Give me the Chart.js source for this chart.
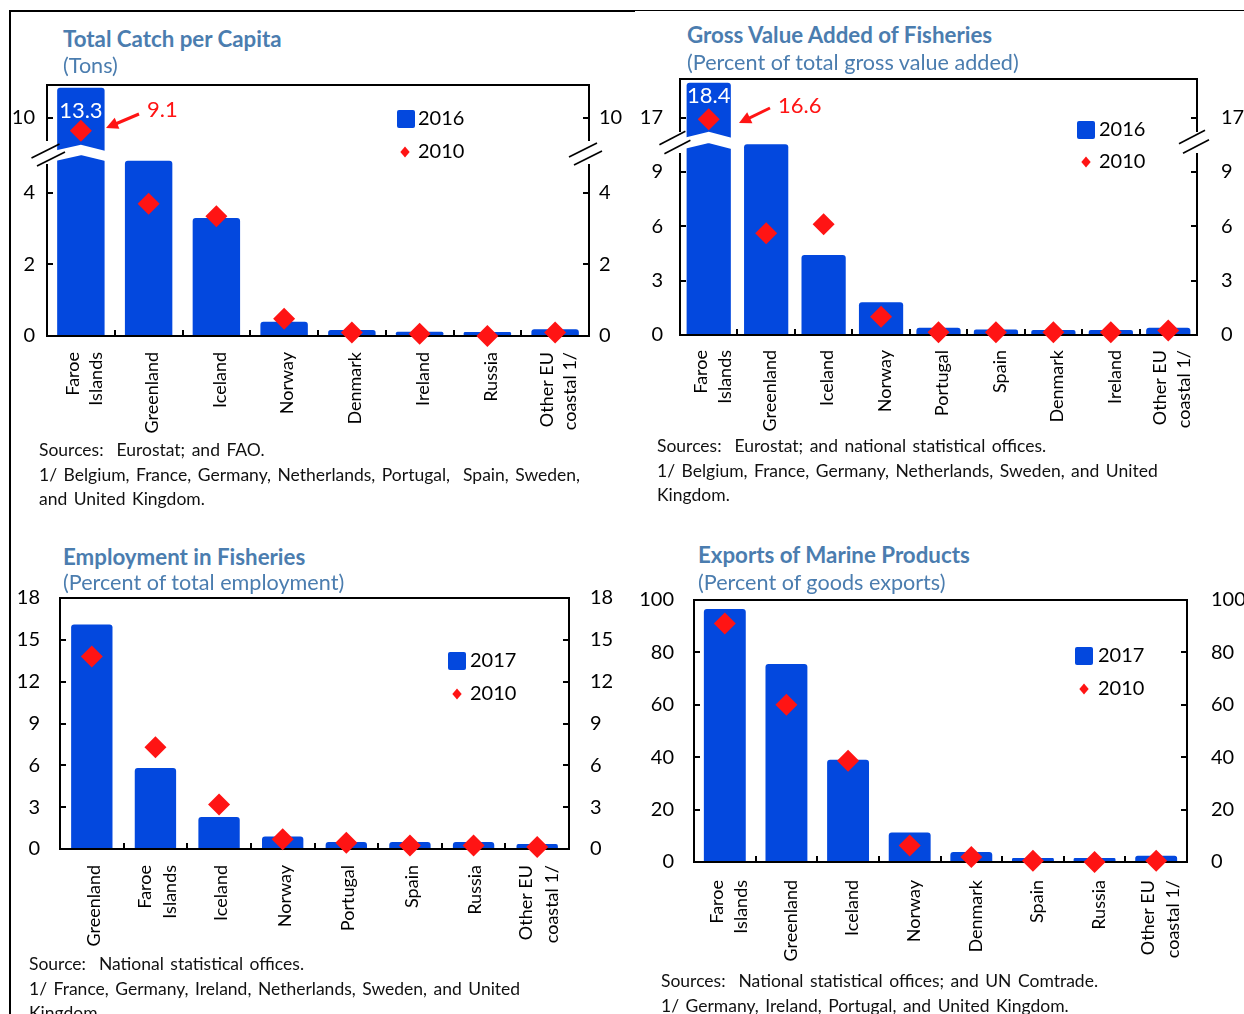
<!DOCTYPE html>
<html>
<head>
<meta charset="utf-8">
<script src="https://cdn.jsdelivr.net/npm/chart.js@4.4.0/dist/chart.umd.min.js"></script>
<style>
html, body { margin: 0; padding: 0; background: #fff; }
body { width: 1244px; height: 1014px; position: relative; overflow: hidden; font-family: Lato, "Open Sans", sans-serif; }
.cv { position: absolute; }
.ttl { position: absolute; color: #4b7daf; font-weight: bold; font-size: 22.3px; white-space: nowrap; line-height: 1; transform: translateY(-50%); z-index: 2; }
.sub { position: absolute; color: #4b7daf; font-size: 21.6px; white-space: nowrap; line-height: 1; transform: translateY(-50%); z-index: 2; }
.src { position: absolute; font-size: 17.5px; word-spacing: 2px; line-height: 24.5px; color: #111; white-space: nowrap; z-index: 2; }
.frame { position: absolute; background: #000; }
</style>
</head>
<body>
<div class="frame" style="left:10px;top:10px;width:625px;height:2px"></div>
<div class="frame" style="left:635px;top:10px;width:609px;height:1px"></div>
<div class="frame" style="left:9px;top:10px;width:2px;height:1004px"></div>

<div class="ttl" style="left:63px;top:39px">Total Catch per Capita</div>
<div class="sub" style="left:63px;top:66px">(Tons)</div>
<div class="ttl" style="left:687px;top:35px">Gross Value Added of Fisheries</div>
<div class="sub" style="left:687px;top:63px">(Percent of total gross value added)</div>
<div class="ttl" style="left:63px;top:557px">Employment in Fisheries</div>
<div class="sub" style="left:63px;top:583px">(Percent of total employment)</div>
<div class="ttl" style="left:698px;top:555px">Exports of Marine Products</div>
<div class="sub" style="left:698px;top:583px">(Percent of goods exports)</div>

<div class="src" style="left:39px;top:438px">Sources:&nbsp; Eurostat; and FAO.<br>1/ Belgium, France, Germany, Netherlands, Portugal,&nbsp; Spain, Sweden,<br>and United Kingdom.</div>
<div class="src" style="left:657px;top:434px">Sources:&nbsp; Eurostat; and national statistical offices.<br>1/ Belgium, France, Germany, Netherlands, Sweden, and United<br>Kingdom.</div>
<div class="src" style="left:29px;top:952px">Source:&nbsp; National statistical offices.<br>1/ France, Germany, Ireland, Netherlands, Sweden, and United<br>Kingdom.</div>
<div class="src" style="left:661px;top:969px">Sources:&nbsp; National statistical offices; and UN Comtrade.<br>1/ Germany, Ireland, Portugal, and United Kingdom.</div>

<script>
// data
const catchLabels = [['Faroe', 'Islands'], 'Greenland', 'Iceland', 'Norway', 'Denmark', 'Ireland', 'Russia', ['Other EU', 'coastal 1/']];
const catch2016 = [13.3, 4.9, 3.3, 0.4, 0.17, 0.12, 0.11, 0.19];
const catch2010 = [9.1, 3.7, 3.35, 0.48, 0.1, 0.06, 0.0, 0.1];
const catchTicks = [0, 2, 4, 10];

const gvaLabels = [['Faroe', 'Islands'], 'Greenland', 'Iceland', 'Norway', 'Portugal', 'Spain', 'Denmark', 'Ireland', ['Other EU', 'coastal 1/']];
const gva2016 = [18.4, 10.5, 4.4, 1.8, 0.4, 0.3, 0.28, 0.28, 0.4];
const gva2010 = [16.6, 5.6, 6.1, 1.0, 0.15, 0.15, 0.15, 0.15, 0.25];
const gvaTicks = [0, 3, 6, 9, 17];

const empLabels = ['Greenland', ['Faroe', 'Islands'], 'Iceland', 'Norway', 'Portugal', 'Spain', 'Russia', ['Other EU', 'coastal 1/']];
const emp2017 = [16.1, 5.8, 2.3, 0.9, 0.5, 0.5, 0.5, 0.35];
const emp2010 = [13.8, 7.3, 3.2, 0.7, 0.45, 0.25, 0.25, 0.15];
const empTicks = [0, 3, 6, 9, 12, 15, 18];

const expLabels = [['Faroe', 'Islands'], 'Greenland', 'Iceland', 'Norway', 'Denmark', 'Spain', 'Russia', ['Other EU', 'coastal 1/']];
const exp2017 = [96.6, 75.6, 39, 11.3, 3.8, 1.5, 1.5, 2.4];
const exp2010 = [91, 60, 38.6, 6.3, 1.9, 0.5, 0, 0.5];
const expTicks = [0, 20, 40, 60, 80, 100];

const BLUE = '#0348de', RED = '#ff1414';
Chart.defaults.font.family = 'Lato, "Open Sans", sans-serif';
Chart.defaults.color = '#000';

function arrow(ctx, x1, y1, x2, y2) {
    const a = Math.atan2(y2 - y1, x2 - x1), hl = 12, hw = 6;
    ctx.save();
    ctx.strokeStyle = RED; ctx.fillStyle = RED; ctx.lineWidth = 3;
    ctx.beginPath();
    ctx.moveTo(x1, y1);
    ctx.lineTo(x2 - Math.cos(a) * hl * 0.8, y2 - Math.sin(a) * hl * 0.8);
    ctx.stroke();
    ctx.beginPath();
    ctx.moveTo(x2, y2);
    ctx.lineTo(x2 - Math.cos(a) * hl - Math.sin(a) * hw, y2 - Math.sin(a) * hl + Math.cos(a) * hw);
    ctx.lineTo(x2 - Math.cos(a) * hl + Math.sin(a) * hw, y2 - Math.sin(a) * hl - Math.cos(a) * hw);
    ctx.closePath();
    ctx.fill();
    ctx.restore();
}

function panel(o) {
    const cv = document.createElement('canvas');
    cv.className = 'cv';
    cv.width = o.width; cv.height = o.height;
    cv.style.left = o.left + 'px'; cv.style.top = o.top + 'px';
    cv.style.width = o.width + 'px'; cv.style.height = o.height + 'px';
    document.body.appendChild(cv);

    const WL = o.box.L - o.left, WR = o.left + o.width - o.box.R;
    const padTop = o.box.T - o.top, HX = o.top + o.height - o.box.B;
    const toAxis = o.toAxis || (v => v);
    const topTick = o.ticks[o.ticks.length - 1];
    // bars above the top tick of a broken axis run off the top
    const barVal = v => (o.broken && v > topTick) ? o.yMax - o.capGap : toAxis(v);
    const X = px => px - o.left, Y = py => py - o.top;

    const yAxis = (pos) => ({
        type: 'linear',
        position: pos,
        min: 0,
        max: o.yMax,
        afterBuildTicks: s => { s.ticks = o.ticks.map(v => ({ value: toAxis(v) })); },
        afterFit: s => {
            s.width = pos === 'left' ? WL : WR;
            s.paddingTop = 0; s.paddingBottom = 0;
        },
        ticks: {
            callback: (v, i) => String(o.ticks[i]),
            font: { size: 20 },
            color: '#000',
            padding: pos === 'left' ? o.padL : o.padR,
            autoSkip: false
        },
        grid: { drawOnChartArea: false, tickLength: -6, color: '#000', lineWidth: 2 },
        border: { display: true, color: '#000', width: 2 }
    });

    const deco = {
        id: 'deco' + o.left + o.top,
        afterDatasetsDraw(chart) {
            if (!o.broken) return;
            const ctx = chart.ctx, bar = chart.getDatasetMeta(0).data[0];
            const bl = bar.x - bar.width / 2 - 3, br = bar.x + bar.width / 2 + 3;
            ctx.save();
            ctx.strokeStyle = '#fff';
            ctx.lineWidth = o.broken.lw;
            ctx.beginPath();
            ctx.moveTo(bl, Y(o.broken.side));
            ctx.lineTo(bar.x, Y(o.broken.mid));
            ctx.lineTo(br, Y(o.broken.side + 0.5));
            ctx.stroke();
            ctx.restore();
        },
        afterDraw(chart) {
            const ctx = chart.ctx, ca = chart.chartArea, xs = chart.scales.x;
            ctx.save();
            // top edge of the frame
            ctx.strokeStyle = '#000'; ctx.lineWidth = 2;
            ctx.beginPath(); ctx.moveTo(ca.left - 1, ca.top); ctx.lineTo(ca.right + 1, ca.top); ctx.stroke();

            if (o.broken) {
                const b = o.broken;
                ctx.fillStyle = '#fff';
                ctx.fillRect(ca.left - 3, Y(b.gap[0]), 6, b.gap[1] - b.gap[0]);
                ctx.fillRect(ca.right - 3, Y(b.gap[0]), 6, b.gap[1] - b.gap[0]);
                ctx.strokeStyle = '#000'; ctx.lineWidth = 1.6;
                const sl = (cx, cy) => {
                    ctx.beginPath();
                    ctx.moveTo(cx - b.dx, cy + b.dy); ctx.lineTo(cx + b.dx, cy - b.dy); ctx.stroke();
                };
                b.left.forEach(p => sl(ca.left + p[0], Y(p[1])));
                b.right.forEach(p => sl(ca.right + p[0], Y(p[1])));

                // value labels of the truncated marks
                const bar = chart.getDatasetMeta(0).data[0];
                ctx.font = '22px Lato';
                ctx.textBaseline = 'middle';
                ctx.textAlign = 'center';
                ctx.fillStyle = '#fff';
                ctx.fillText(String(o.bars[0]), bar.x, Y(b.barLabelY));
                ctx.textAlign = 'left';
                ctx.fillStyle = RED;
                ctx.fillText(String(o.dots[0]), X(b.dotLabel[0]), Y(b.dotLabel[1]));
                arrow(ctx, X(b.arrow[0]), Y(b.arrow[1]), X(b.arrow[2]), Y(b.arrow[3]));
            }

            // legend
            const lg = o.legend;
            ctx.fillStyle = BLUE;
            ctx.beginPath();
            ctx.roundRect(X(lg.sq[0]), Y(lg.sq[1]), 18, 18, 2);
            ctx.fill();
            ctx.fillStyle = RED;
            const dx = X(lg.dot[0]), dy = Y(lg.dot[1]), r = 5.5;
            ctx.beginPath();
            ctx.moveTo(dx, dy - r); ctx.lineTo(dx + r * 0.85, dy); ctx.lineTo(dx, dy + r); ctx.lineTo(dx - r * 0.85, dy);
            ctx.closePath(); ctx.fill();
            ctx.fillStyle = '#000';
            ctx.font = '20px Lato';
            ctx.textAlign = 'left'; ctx.textBaseline = 'middle';
            ctx.fillText(o.years[0], X(lg.text), Y(lg.sq[1] + 9));
            ctx.fillText(o.years[1], X(lg.text), dy);

            // category labels, rotated
            ctx.font = '18px Lato';
            ctx.textAlign = 'right';
            o.labels.forEach((lab, i) => {
                const lines = Array.isArray(lab) ? lab : [lab];
                const cx = xs.getPixelForValue(i) + o.xl.dx;
                lines.forEach((t, j) => {
                    const lx = cx + (j - (lines.length - 1) / 2) * o.xl.lh;
                    ctx.save();
                    ctx.translate(lx, ca.bottom + o.xl.gap);
                    ctx.rotate(-Math.PI / 2);
                    ctx.fillText(t, 0, 0);
                    ctx.restore();
                });
            });
            ctx.restore();
        }
    };

    new Chart(cv, {
        data: {
            labels: o.labels,
            datasets: [{
                type: 'bar',
                label: o.years[0],
                data: o.bars.map(barVal),
                backgroundColor: BLUE,
                borderWidth: 0,
                borderRadius: { topLeft: 3, topRight: 3 },
                barPercentage: o.barPct,
                categoryPercentage: 1,
                clip: 0,
                order: 2
            }, {
                type: 'line',
                label: o.years[1],
                data: o.dots.map(toAxis),
                showLine: false,
                pointStyle: 'rectRot',
                pointRadius: 11,
                pointBackgroundColor: RED,
                pointBorderWidth: 0,
                clip: false,
                order: 1
            }]
        },
        options: {
            responsive: false,
            animation: false,
            events: [],
            layout: { padding: { top: padTop, left: 0, right: 0, bottom: 0 } },
            plugins: { legend: { display: false }, tooltip: { enabled: false } },
            scales: {
                x: {
                    type: 'category',
                    offset: true,
                    afterFit: s => { s.height = HX; s.paddingLeft = 0; s.paddingRight = 0; },
                    ticks: { display: false },
                    grid: { offset: true, drawOnChartArea: false, tickLength: -6, color: '#000', lineWidth: 2 },
                    border: { display: true, color: '#000', width: 2 }
                },
                y: yAxis('left'),
                y2: yAxis('right')
            }
        },
        plugins: [deco]
    });
}

panel({
    left: 0, top: 70, width: 650, height: 380,
    box: { L: 47, T: 85, R: 589, B: 336 },
    labels: catchLabels, bars: catch2016, dots: catch2010, ticks: catchTicks,
    years: ['2016', '2010'],
    yMax: 7.02,
    toAxis: v => v < 5.5 ? v : 6.098 + (v - 10) * 0.4,
    capGap: 0.08,
    barPct: 0.70,
    padL: 18, padR: 16,
    broken: {
        gap: [141, 164], dx: 14, dy: 7,
        left: [[-1.5, 151], [4, 159]], right: [[-6, 150], [-1, 158]],
        side: 156, mid: 150, lw: 10,
        barLabelY: 111, dotLabel: [147, 110], arrow: [139, 114, 106, 128]
    },
    legend: { sq: [397, 110], dot: [405, 152], text: [418] },
    xl: { dx: 3.5, lh: 23, gap: 16 }
});

panel({
    left: 620, top: 65, width: 624, height: 380,
    box: { L: 680, T: 79, R: 1197, B: 335 },
    labels: gvaLabels, bars: gva2016, dots: gva2010, ticks: gvaTicks,
    years: ['2016', '2010'],
    yMax: 14.1,
    toAxis: v => v < 11.5 ? v : 11.956 + (v - 17) * 0.18,
    capGap: 0.2,
    barPct: 0.77,
    padL: 23, padR: 30,
    broken: {
        gap: [132, 153], dx: 13, dy: 6.7,
        left: [[-7.6, 138], [-2.6, 147]], right: [[-5, 137], [-1, 146.5]],
        side: 143.5, mid: 137.5, lw: 11,
        barLabelY: 96, dotLabel: [778, 106], arrow: [770, 108, 739, 123]
    },
    legend: { sq: [1077, 121], dot: [1086, 162], text: [1099] },
    xl: { dx: 4, lh: 24, gap: 15 }
});

panel({
    left: 0, top: 585, width: 640, height: 429,
    box: { L: 60, T: 598, R: 569, B: 849 },
    labels: empLabels, bars: emp2017, dots: emp2010, ticks: empTicks,
    years: ['2017', '2010'],
    yMax: 18,
    barPct: 0.65,
    padL: 26, padR: 27,
    legend: { sq: [448, 652], dot: [457, 694], text: [470] },
    xl: { dx: 2, lh: 25.5, gap: 16 }
});

panel({
    left: 620, top: 585, width: 624, height: 429,
    box: { L: 694, T: 600, R: 1187, B: 862 },
    labels: expLabels, bars: exp2017, dots: exp2010, ticks: expTicks,
    years: ['2017', '2010'],
    yMax: 100,
    barPct: 0.68,
    padL: 26, padR: 30,
    legend: { sq: [1075, 647], dot: [1084, 689], text: [1098] },
    xl: { dx: 4.5, lh: 24.5, gap: 18 }
});
</script>
</body>
</html>
